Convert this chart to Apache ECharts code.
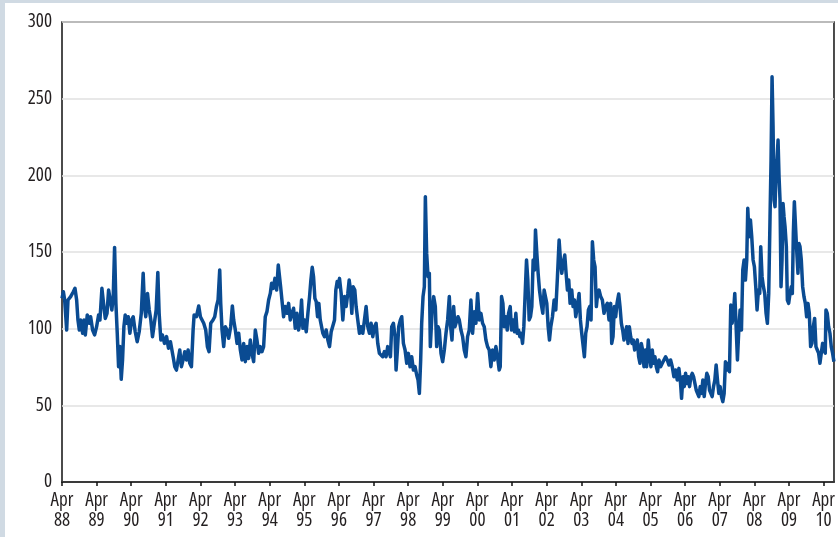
<!DOCTYPE html>
<html>
<head>
<meta charset="utf-8">
<script src="https://cdn.jsdelivr.net/npm/echarts@6/dist/echarts.min.js"></script>
<style>
  html, body { margin: 0; padding: 0; width: 838px; height: 537px; background: #d0dae3; overflow: hidden; }
  #chart { position: absolute; left: 5px; top: 3px; width: 833px; height: 534px; background: #ffffff; }
</style>
</head>
<body>
<div id="chart"></div>
<script>
// Time is measured in years since April 1988 (0 = Apr 88, 22 = Apr 10)
const tickLabels = ['Apr\n88','Apr\n89','Apr\n90','Apr\n91','Apr\n92','Apr\n93','Apr\n94','Apr\n95','Apr\n96','Apr\n97','Apr\n98','Apr\n99','Apr\n00','Apr\n01','Apr\n02','Apr\n03','Apr\n04','Apr\n05','Apr\n06','Apr\n07','Apr\n08','Apr\n09','Apr\n10'];
const yTicks = [0, 50, 100, 150, 200, 250, 300];

const yearsSinceApr88 = [
0,.04,.077,.135,.173,.25,.327,.375,.423,.461,.5,.538,.596,.634,.673,.73,.788,.827,.884,.942,
1.0,1.057,1.096,1.153,1.2,1.25,1.3,1.346,1.394,1.44,1.48,1.519,1.557,1.596,1.634,1.672,1.711,1.749,1.788,1.826,1.865,1.913,1.961,
2.01,2.057,2.115,2.172,2.23,2.29,2.345,2.384,2.42,2.47,2.52,2.566,2.614,2.67,2.72,2.768,2.806,2.855,2.9,2.96,
3.02,3.076,3.133,3.21,3.258,3.306,3.354,3.402,3.45,3.498,3.547,3.595,3.643,3.691,3.739,3.787,3.816,3.883,3.95,3.998,
4.046,4.094,4.152,4.2,4.248,4.296,4.363,4.412,4.46,4.508,4.556,4.585,4.623,4.671,4.719,4.767,4.815,4.873,4.921,4.96,
5.007,5.056,5.104,5.152,5.2,5.248,5.296,5.344,5.392,5.44,5.488,5.536,5.584,5.632,5.68,5.728,5.776,5.824,5.872,5.92,5.969,
6.017,6.055,6.103,6.151,6.2,6.247,6.315,6.363,6.401,6.449,6.497,6.546,6.594,6.642,6.69,6.738,6.786,6.834,6.882,6.92,6.959,
7.007,7.055,7.103,7.151,7.189,7.228,7.266,7.305,7.343,7.382,7.42,7.459,7.497,7.535,7.583,7.632,7.68,7.728,7.776,7.824,7.872,7.91,7.949,7.987,
8.016,8.064,8.112,8.16,8.208,8.256,8.295,8.333,8.372,8.41,8.458,8.496,8.544,8.592,8.64,8.689,8.737,8.785,8.833,8.881,8.929,8.977,
9.025,9.073,9.121,9.169,9.217,9.265,9.313,9.361,9.409,9.487,9.525,9.573,9.621,9.65,9.689,9.727,9.775,9.814,9.862,9.91,9.958,
10.006,10.054,10.102,10.15,10.198,10.246,10.285,10.323,10.361,10.39,10.429,10.467,10.496,10.534,10.573,10.611,10.64,10.688,10.736,10.784,10.823,10.861,10.9,10.948,10.996,
11.044,11.092,11.14,11.188,11.226,11.265,11.313,11.351,11.39,11.438,11.476,11.524,11.572,11.62,11.668,11.716,11.764,11.812,11.86,11.908,11.956,
12.005,12.053,12.101,12.149,12.197,12.245,12.293,12.341,12.389,12.437,12.485,12.533,12.581,12.629,12.659,12.697,12.736,12.774,12.822,12.861,12.899,12.947,12.986,
13.034,13.072,13.11,13.149,13.187,13.226,13.264,13.303,13.341,13.38,13.418,13.456,13.495,13.533,13.572,13.61,13.649,13.677,13.716,13.754,13.793,13.841,13.889,13.927,13.966,
14.004,14.043,14.081,14.12,14.168,14.216,14.264,14.312,14.36,14.398,14.437,14.475,14.523,14.562,14.6,14.638,14.677,14.725,14.763,14.802,14.84,14.888,14.936,14.975,
15.013,15.052,15.09,15.129,15.167,15.206,15.244,15.282,15.321,15.359,15.398,15.436,15.474,15.513,15.561,15.609,15.657,15.705,15.753,15.801,15.849,15.879,15.917,15.956,15.994,
16.033,16.081,16.119,16.158,16.196,16.234,16.273,16.311,16.35,16.388,16.427,16.465,16.504,16.542,16.58,16.619,16.657,16.696,16.734,16.773,16.811,16.85,16.888,16.936,16.974,
17.013,17.051,17.09,17.128,17.167,17.205,17.244,17.292,17.34,17.388,17.436,17.484,17.532,17.58,17.628,17.676,17.724,17.772,17.82,17.868,17.897,17.936,17.974,
18.013,18.051,18.089,18.128,18.166,18.205,18.243,18.282,18.32,18.358,18.397,18.435,18.474,18.512,18.551,18.589,18.627,18.666,18.704,18.743,18.781,18.82,18.858,18.896,18.935,18.973,
19.012,19.05,19.088,19.127,19.165,19.204,19.242,19.281,19.319,19.357,19.396,19.434,19.473,19.511,19.55,19.588,19.627,19.665,19.703,19.742,19.78,19.809,19.848,19.886,19.924,19.963,
20.001,20.04,20.078,20.117,20.155,20.184,20.222,20.261,20.299,20.338,20.376,20.415,20.453,20.482,20.511,20.54,20.568,20.597,20.626,20.655,20.684,20.713,20.741,20.77,20.799,20.828,20.857,20.886,20.924,20.953,20.991,
21.03,21.068,21.097,21.126,21.155,21.193,21.222,21.26,21.289,21.318,21.356,21.395,21.433,21.472,21.51,21.549,21.587,21.625,21.664,21.702,21.741,21.779,21.818,21.856,21.894,21.933,21.971,
22.01,22.048,22.068,22.106,22.145,22.183,22.221,22.26,22.298
];

const indexValues = [
119.8,124.1,118.7,99.1,118.7,120.9,124.1,126.3,118.7,105.6,99.1,105.6,97,105.6,95.9,108.9,103.5,107.8,99.1,95.9,
101.3,108.9,105.6,126.3,116.5,106.7,110,125.2,118.7,112.2,120.9,153,116.5,97,75.2,88.3,67,79.6,101.3,108.9,103.5,107.8,97,
105.6,107.8,98,91.5,98,110,136.1,114.3,107.8,123,112.2,105.6,94.8,93.7,112.2,136.7,110,92.6,95.9,90.4,
94.8,87.2,91.5,81.7,75.2,73,79.6,86.1,75.2,79.6,85,79.6,86.1,77.4,75.2,99.1,108.9,107.8,114.8,107.8,
105.6,103.5,99.1,88.3,85,103.5,105.6,107.8,114.3,118.7,138.3,116.5,99.1,88.3,101.3,99.1,93.7,101.3,114.8,105.6,
99.1,90.4,97,86.1,79.6,90.4,78.5,88.3,80.6,92.6,83.9,78.5,99.1,92.6,83.9,88.3,85,88.3,107.8,111.1,118.7,
123,129.6,126.3,132.8,125.2,141.5,127.4,127.4,107.8,114.4,110,116.5,105.7,110,113.3,100.2,110,99.1,105.7,118.7,100.2,
105.7,98,110,120.9,131.7,140,133.9,119.8,117.6,107.8,116.5,105.7,106.7,97,94.8,99.1,92.6,88.3,98,99.1,105.7,125.2,130.7,127.4,
132.8,123,105.7,120.9,114.4,123,131.7,125.2,110,127.4,125.2,114.4,105.7,97,101.3,97,105.7,114.4,101.3,97,103.5,94.8,
101.3,103.5,90.4,83.9,82.8,81.7,85,81.7,88.3,81.7,101.3,103.5,94.8,73,86.1,101.3,105.7,107.8,90.4,86.1,77.4,
83.9,75.2,81.7,73,75.2,69.8,66.5,57.8,79.6,103.5,120.9,127.4,186.1,149.1,133.9,136.1,88.3,110,120.9,114.4,88.3,101.3,99.1,83.9,78.5,
86.1,97,105.7,120.9,101.3,92.6,114.4,101.3,101.3,107.8,105.7,99.1,94.8,86.1,81.7,94.8,99.1,118.7,97,111.1,103.5,
123,105.7,110,103.5,101.3,92.6,88.3,86.1,75.2,86.1,79.6,88.3,81.7,73,75.2,120.9,116.5,101.3,107.8,99.1,110,114.4,99.1,
105.7,98,110,97,99.1,94.8,97,90.4,101.3,101.3,144.8,131.7,105.7,107.8,114.4,144.8,138.3,164.4,149.1,136.1,125.2,116.5,110,125.2,125.2,
116.5,101.3,92.6,101.3,107.8,118.7,112.2,133.9,157.8,144.8,136.1,142.6,148,136.1,125.2,131.7,116.5,125.2,114.4,118.7,107.8,114.4,123,105.7,
97,97,81.7,97,101.3,112.2,114.4,105.7,156.7,144.8,140.4,114.4,123,125.2,120.9,118.7,110,114.4,116.5,105.7,116.5,90.4,94.8,114.4,107.8,
116.5,122.6,114.4,103.5,99.1,92.6,97,101.3,90.4,101.3,94.8,90.4,92.6,86.1,88.3,92.6,81.7,77.4,90.4,86.1,75.2,86.1,75.2,92.6,81.7,
75.2,86.1,77.4,81.7,75.2,71.9,79.6,75.2,77.4,79.6,81.7,79.6,76.3,79.6,75.2,68.7,73,66.5,74.1,64.3,54.6,68.7,62.2,
70.9,64.3,68.7,62.2,68.7,70.9,68.7,64.3,60,57.8,55.7,62.2,57.8,66.5,55.7,64.3,70.9,68.7,60,57.8,55.7,62.2,66.5,76.3,66.5,57.8,
62.2,55.7,52.4,57.8,78.5,73,77.4,71.9,115.4,103.5,110,123,101.3,79.6,99.1,112.2,99.1,138.3,144.8,131.7,144.8,178.5,160,170.9,160,144.8,
140.4,127.4,112.2,125.2,123,153.5,133.9,127.4,123,110,103.5,123,173,210,264.3,231.7,183.9,179.6,201.3,210,223,199.1,183.9,127.4,144.8,181.7,173,166.5,153.5,118.7,116.5,
123,127.4,123,162.2,182.8,181.7,151.3,136.1,155.6,153.5,144.8,127.4,120.9,116.5,107.8,116.5,110,88.3,90.4,101.3,106.7,88.3,86.1,84,77.4,76.3,90.4,
86.1,84,112.2,110,101.3,97,88.3,84,78.5
];

const seriesData = yearsSinceApr88.map((t, i) => [t, indexValues[i]]);
const tickPositions = tickLabels.map((_, i) => i);

const FONT = "'Open Sans', 'Roboto', sans-serif";

const chart = echarts.init(document.getElementById('chart'), null, { renderer: 'canvas' });
chart.setOption({
  animation: false,
  backgroundColor: '#ffffff',
  grid: {
    left: 57, top: 19, right: 3, bottom: 55,
    show: true, borderColor: '#111111', borderWidth: 1.5, backgroundColor: '#ffffff'
  },
  xAxis: {
    type: 'value',
    min: 0, max: 22.3,
    interval: 1,
    axisLine: { show: true, lineStyle: { color: '#111111', width: 1.5 } },
    axisTick: { show: true, inside: false, length: 4, lineStyle: { color: '#111111', width: 1.5 }, customValues: tickPositions },
    axisLabel: {
      customValues: tickPositions,
      formatter: v => tickLabels[Math.round(v)] || '',
      color: '#231f20', fontFamily: FONT, fontStyle: 'condensed', fontSize: 19, lineHeight: 20, margin: 9
    },
    splitLine: { show: false }
  },
  yAxis: {
    type: 'value',
    min: yTicks[0], max: yTicks[yTicks.length - 1], interval: 50,
    axisLine: { show: false },
    axisTick: { show: false },
    axisLabel: { color: '#231f20', fontFamily: FONT, fontStyle: 'condensed', fontSize: 19, margin: 10 },
    splitLine: { show: true, lineStyle: { color: '#e0e0e0', width: 1.5 } }
  },
  series: [{
    type: 'line',
    data: seriesData,
    showSymbol: false,
    symbol: 'none',
    smooth: false,
    lineStyle: { color: '#0a4b92', width: 3.5, join: 'round' },
    z: 3
  }]
});
</script>
</body>
</html>
